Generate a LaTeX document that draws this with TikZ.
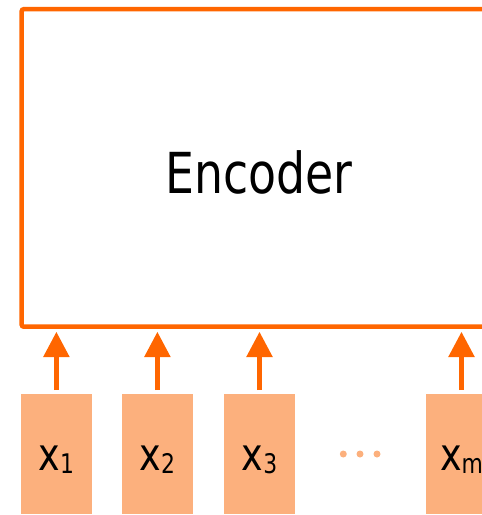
\documentclass[tikz,border=0pt]{standalone}
\usepackage{fontspec}
\setmainfont{DejaVu Sans}[FakeStretch=0.81]
\usetikzlibrary{arrows.meta}

\definecolor{encorange}{RGB}{255,102,0}
\definecolor{peach}{RGB}{252,176,125}

\newcommand{\tok}[1]{x\raisebox{-3pt}{\fontsize{27}{27}\selectfont #1}}

\begin{document}
\begin{tikzpicture}[x=1pt, y=-1pt,
  every node/.style={outer sep=0pt, inner sep=0pt},
  encbox/.style={draw=encorange, line width=4.5pt, rounded corners=2pt,
    fill=white, minimum width=474.6pt, minimum height=317.5pt,
    font=\fontsize{56.5}{60}\selectfont, text height=50.7pt, text depth=0pt},
  tokbox/.style={fill=peach, minimum width=71pt, minimum height=120pt,
    anchor=north, font=\fontsize{45}{48}\selectfont,
    text height=32pt, text depth=0pt},
  feed/.style={draw=encorange, line width=5.3pt,
    -{Triangle[length=25.3pt, width=25pt]},
    shorten <=4pt, shorten >=5pt},
  dot/.style={circle, fill=peach, minimum size=7pt}
]
  \useasboundingbox (0,0) rectangle (482,515);
  \clip (0,0) rectangle (482,515);

  % encoder block (right side runs past the edge)
  \node[encbox] (enc) at (259,167.95) {Encoder};

  % input tokens
  \node[tokbox] (x1) at (56.4,394) {\tok{1}};
  \node[tokbox] (x2) at (157.4,394) {\tok{2}};
  \node[tokbox] (x3) at (259.5,394) {\tok{3}};
  \node[tokbox] (xm) at (461.5,394) {\tok{m}};

  % ellipsis between x3 and xm
  \node[dot] (d1) at (343.3,454) {};
  \node[dot] (d2) at (360,454) {};
  \node[dot] (d3) at (377,454) {};

  % feed arrows into the encoder
  \foreach \t in {x1,x2,x3,xm}
    \draw[feed] (\t.north) -- (\t.north |- enc.south);
\end{tikzpicture}
\end{document}
